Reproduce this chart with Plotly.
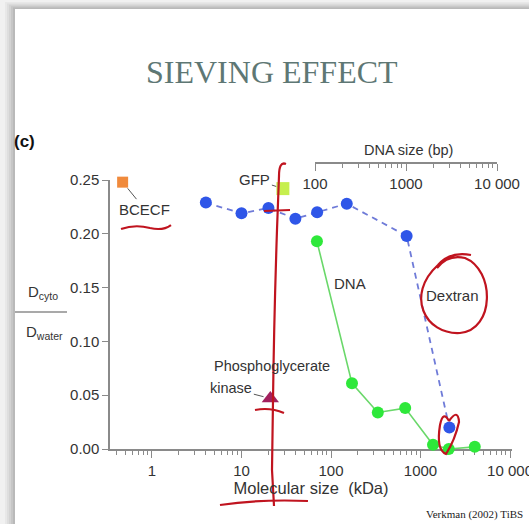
import numpy as np
import plotly.graph_objects as go

# ---------------- data ----------------
# Dextran series, bottom axis (kDa)
dextran_kda = [4, 10, 20, 40, 70, 150, 700, 2100]
dextran_ratio = [0.229, 0.219, 0.224, 0.214, 0.220, 0.228, 0.198, 0.020]

# DNA series, top axis (bp)
dna_bp = [105, 255, 490, 980, 1980, 2950, 5700]
dna_ratio = [0.193, 0.061, 0.034, 0.038, 0.004, 0.000, 0.002]

# single solutes, bottom axis (kDa)
solute_names = ["BCECF", "GFP", "Phosphoglycerate kinase"]
solute_kda = [0.47, 29, 21]
solute_ratio = [0.248, 0.242, 0.047]

y_ticks = [0, 0.05, 0.10, 0.15, 0.20, 0.25]
kda_ticks = [1, 10, 100, 1000, 10000]
kda_labels = ["1", "10", "100", "1000", "10 000"]
bp_ticks = [100, 1000, 10000]
bp_labels = ["100", "1000", "10 000"]

# ---------------- layout geometry ----------------
W, H = 529, 524
L, R, T, B = 110, 17, 163, 75
PW, PH = W - L - R, H - T - B
Y_TOP_PX = 180  # pixel row of y = 0.25


def px(x):
    return (x - L) / PW


def py(y):
    return (H - B - y) / PH


def pt(x, y):
    return f"{px(x):.4f},{py(y):.4f}"


SANS = "Liberation Sans, Arial, Helvetica, sans-serif"
SERIF = "Liberation Serif, Times New Roman, serif"
TXT = "#333333"
AX = "#8a8a8a"

fig = go.Figure()

fig.add_trace(go.Scatter(
    x=dextran_kda, y=dextran_ratio, mode="lines+markers", name="Dextran",
    line=dict(color="#6f7bd8", width=1.8, dash="6px,5px"),
    marker=dict(color="#2f56e8", size=12, symbol="circle"),
    cliponaxis=False, showlegend=False,
))

fig.add_trace(go.Scatter(
    x=dna_bp, y=dna_ratio, mode="lines+markers", name="DNA",
    xaxis="x2", yaxis="y",
    line=dict(color="#6ad86a", width=1.6),
    marker=dict(color="#2ee83a", size=12, symbol="circle"),
    cliponaxis=False, showlegend=False,
))

solute_colors = ["#f08a3c", "#c6ef4e", "#a3205e"]
solute_symbols = ["square", "square", "triangle-up"]
solute_sizes = [11, 13, 15]
for n, xv, yv, c, s, sz in zip(solute_names, solute_kda, solute_ratio,
                                solute_colors, solute_symbols, solute_sizes):
    fig.add_trace(go.Scatter(
        x=[xv], y=[yv], mode="markers", name=n,
        marker=dict(color=c, size=sz, symbol=s),
        cliponaxis=False, showlegend=False,
    ))

x_lo = -0.469
x_hi = 4.022

fig.update_layout(
    width=W, height=H, autosize=False,
    margin=dict(l=L, r=R, t=T, b=B, pad=0, autoexpand=False),
    paper_bgcolor="#ffffff", plot_bgcolor="rgba(0,0,0,0)",
    font=dict(family=SANS, color=TXT, size=15),
    xaxis=dict(
        type="log", range=[x_lo, x_hi], domain=[0, 1], automargin=False,
        showline=True, linecolor=AX, linewidth=1.5,
        ticks="outside", ticklen=7, tickcolor=AX, tickwidth=1.2,
        tickvals=kda_ticks, ticktext=kda_labels, ticklabeloverflow="allow",
        minor=dict(ticks="outside", ticklen=4, tickcolor=AX,
                   tickvals=[m * 10 ** d for d in range(-1, 4) for m in range(2, 10)
                             if x_lo <= np.log10(m * 10 ** d) <= x_hi]),
        showgrid=False, zeroline=False,
        tickfont=dict(size=15, color=TXT),
        title=dict(text="Molecular size  (kDa)", font=dict(size=16.5, color=TXT),
                   standoff=3),
        anchor="y",
    ),
    xaxis2=dict(
        type="log", range=[2, 4], domain=[px(315), px(497)], automargin=False,
        anchor="free", position=1, side="bottom",
        showline=True, linecolor=AX, linewidth=1.5,
        ticks="outside", ticklen=7, tickcolor=AX, tickwidth=1.2,
        tickvals=bp_ticks, ticktext=bp_labels, ticklabeloverflow="allow",
        minor=dict(ticks="outside", ticklen=4, tickcolor=AX,
                   tickvals=[m * 10 ** d for d in range(2, 4) for m in range(2, 10)]),
        showgrid=False, zeroline=False,
        tickfont=dict(size=15, color=TXT),
    ),
    yaxis=dict(
        range=[0, 0.25], domain=[0, py(Y_TOP_PX)], automargin=False,
        showline=True, linecolor=AX, linewidth=1.5,
        ticks="outside", ticklen=6, tickcolor=AX, tickwidth=1.2,
        tickvals=y_ticks, tickformat=".2f",
        showgrid=False, zeroline=False,
        tickfont=dict(size=15, color=TXT),
        anchor="x",
    ),
)


def note(text, x, y, size=15, color=TXT, family=SANS, xanchor="center"):
    return dict(text=text, x=px(x), y=py(y), xref="paper", yref="paper",
                xanchor=xanchor, yanchor="middle", showarrow=False,
                font=dict(family=family, size=size, color=color))


ann = [
    note("SIEVING EFFECT", 272, 72, size=32, color="#5e7774", family=SERIF),
    note("<b>(c)</b>", 24, 141, size=17, color="#111111"),
    note("DNA size (bp)", 408, 150, size=14.5),
    note("D<sub>cyto</sub>", 43, 292),
    note("D<sub>water</sub>", 44, 332),
    note("Verkman (2002) TiBS", 525, 514, size=11, color="#222222", family=SERIF, xanchor="right"),
    note("DNA", 350, 283),
    note("Dextran", 452, 295),
    note("Phosphoglycerate", 212, 366, size=14.5, xanchor="left"),
]
# labels with leader lines to their markers
ann.append(dict(text="BCECF", x=np.log10(solute_kda[0]), y=solute_ratio[0], xref="x", yref="y",
                ax=22, ay=27, showarrow=True, arrowhead=0, arrowwidth=1, arrowcolor="#555555",
                standoff=8, font=dict(size=15, color=TXT)))
ann.append(dict(text="GFP", x=np.log10(solute_kda[1]), y=solute_ratio[1], xref="x", yref="y",
                ax=-28, ay=-9, showarrow=True, arrowhead=0, arrowwidth=1, arrowcolor="#555555",
                standoff=7, font=dict(size=15, color=TXT)))
ann.append(dict(text="kinase", x=np.log10(solute_kda[2]), y=solute_ratio[2], xref="x", yref="y",
                ax=-39, ay=-10, showarrow=True, arrowhead=0, arrowwidth=1, arrowcolor="#555555",
                standoff=7, font=dict(size=14.5, color=TXT)))
fig.update_layout(annotations=ann)

shapes = []
# slide frame shadow (gray border on left and top)
greys = ["#b9b9b9", "#c6c6c6", "#d3d3d3", "#dedede", "#e8e8e8", "#f1f1f1"]
for i, col in enumerate(greys):
    shapes.append(dict(type="rect", xref="paper", yref="paper",
                       x0=px(0), x1=px(15 - 2 * i), y0=py(H), y1=py(0),
                       fillcolor=col, line=dict(width=0), layer="below"))
for i, col in enumerate(greys):
    shapes.append(dict(type="rect", xref="paper", yref="paper",
                       x0=px(15 - 2 * i), x1=px(W), y0=py(9 - 1.4 * i), y1=py(0),
                       fillcolor=col, line=dict(width=0), layer="below"))
# fraction bar of the y label
shapes.append(dict(type="line", xref="paper", yref="paper", x0=px(15), x1=px(67),
                   y0=py(312), y1=py(312), line=dict(color="#555555", width=1.2)))

# red pen annotations
RED = dict(color="#c0141f", width=2.2)


def path(*cmds):
    return " ".join(cmds)


shapes.append(dict(type="path", xref="paper", yref="paper", line=RED,
                   path=path("M", pt(286, 164), "Q", pt(279, 161), pt(279, 176),
                             "L", pt(277, 230), "Q", pt(274, 320), pt(273, 400),
                             "L", pt(272, 470), "L", pt(274, 506))))
shapes.append(dict(type="path", xref="paper", yref="paper", line=RED,
                   path=path("M", pt(264, 211), "L", pt(290, 210))))
shapes.append(dict(type="path", xref="paper", yref="paper", line=RED,
                   path=path("M", pt(255, 410), "Q", pt(270, 407), pt(284, 413))))
shapes.append(dict(type="path", xref="paper", yref="paper", line=RED,
                   path=path("M", pt(121, 229), "Q", pt(135, 224), pt(150, 228),
                             "Q", pt(163, 231), pt(171, 225))))
shapes.append(dict(type="path", xref="paper", yref="paper", line=RED,
                   path=path("M", pt(471, 255), "Q", pt(450, 251), pt(438, 265),
                             "C", pt(405, 295), pt(425, 335), pt(460, 333),
                             "C", pt(495, 330), pt(495, 270), pt(465, 258),
                             "Q", pt(448, 254), pt(437, 268))))
shapes.append(dict(type="path", xref="paper", yref="paper", line=RED,
                   path=path("M", pt(449, 421), "Q", pt(443, 410), pt(440, 425),
                             "Q", pt(436, 450), pt(446, 454),
                             "Q", pt(455, 440), pt(459, 422),
                             "Q", pt(458, 408), pt(449, 421))))
shapes.append(dict(type="path", xref="paper", yref="paper", line=RED,
                   path=path("M", pt(220, 505), "Q", pt(260, 499), pt(308, 501))))
fig.update_layout(shapes=shapes)

fig.write_html("out.html", config={"displayModeBar": False},
               post_script="document.body.style.margin='0';document.body.style.overflow='hidden';")
